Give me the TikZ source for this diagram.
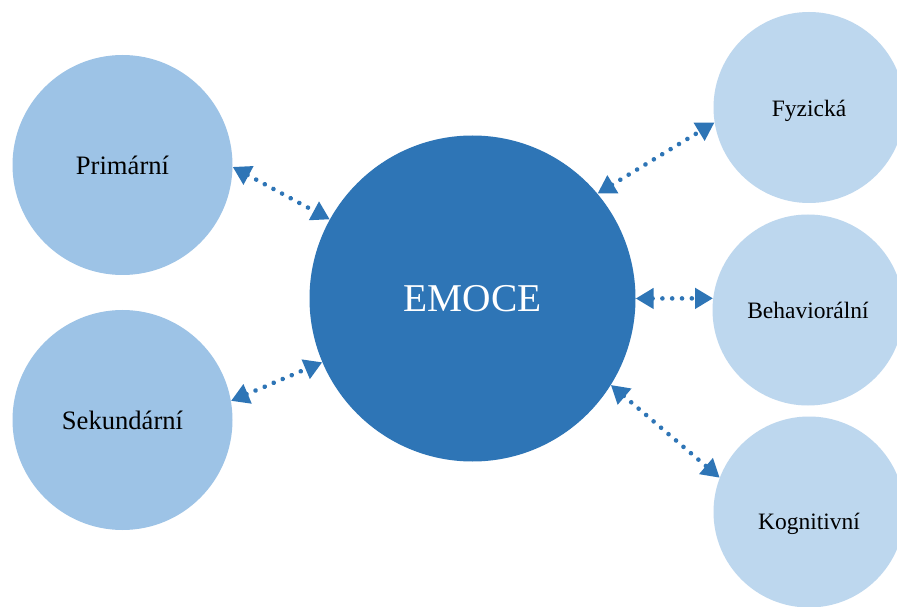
\documentclass[tikz,border=0pt]{standalone}
\usepackage{fontspec}
\setmainfont{Liberation Serif}
\usetikzlibrary{arrows.meta}
\definecolor{cmain}{HTML}{2E75B6}
\definecolor{cleft}{HTML}{9DC3E6}
\definecolor{cright}{HTML}{BDD7EE}
\begin{document}
\begin{tikzpicture}[x=1pt,y=1pt,
  bubble/.style={circle,inner sep=0pt,draw=none},
  mainbubble/.style={bubble,fill=cmain,text=white,minimum size=326pt,font=\fontsize{39.4}{44}\selectfont},
  leftbubble/.style={bubble,fill=cleft,minimum size=220pt,font=\fontsize{26.6}{30}\selectfont},
  rightbubble/.style={bubble,fill=cright,minimum size=191pt,font=\fontsize{23.5}{28}\selectfont},
  link/.style={cmain,line width=4.6pt,line cap=round,dash pattern=on 0.01pt off 9.8pt,
    {Triangle[length=18pt,width=20pt]}-{Triangle[length=18pt,width=20pt]}}]
\clip (0,0) rectangle (897,606);
\fill[white] (0,0) rectangle (897,606);
\node[mainbubble] (emoce) at (472.5,307.5) {EMOCE};
\node[leftbubble] (prim) at (122.5,441) {Primární};
\node[leftbubble] (sek) at (122.5,186) {Sekundární};
\node[rightbubble,label={[font=\fontsize{23.5}{28}\selectfont,yshift=-3pt]center:Fyzická}] (fyz) at (809,498.5) {};
\node[rightbubble] (beh) at (808,296) {Behaviorální};
\node[rightbubble,label={[font=\fontsize{23.5}{28}\selectfont,yshift=-12pt]center:Kognitivní}] (kog) at (809,94) {};
\draw[link] (prim.-1.6) -- (emoce.151.4);
\draw[link] (sek.10.4) -- (emoce.203.3);
\draw[link] (emoce.40.3) -- (fyz.189.4);
\draw[link] (emoce.-0.5) -- (beh.173.9);
\draw[link] (emoce.-32.8) -- (kog.159);
\end{tikzpicture}
\end{document}
